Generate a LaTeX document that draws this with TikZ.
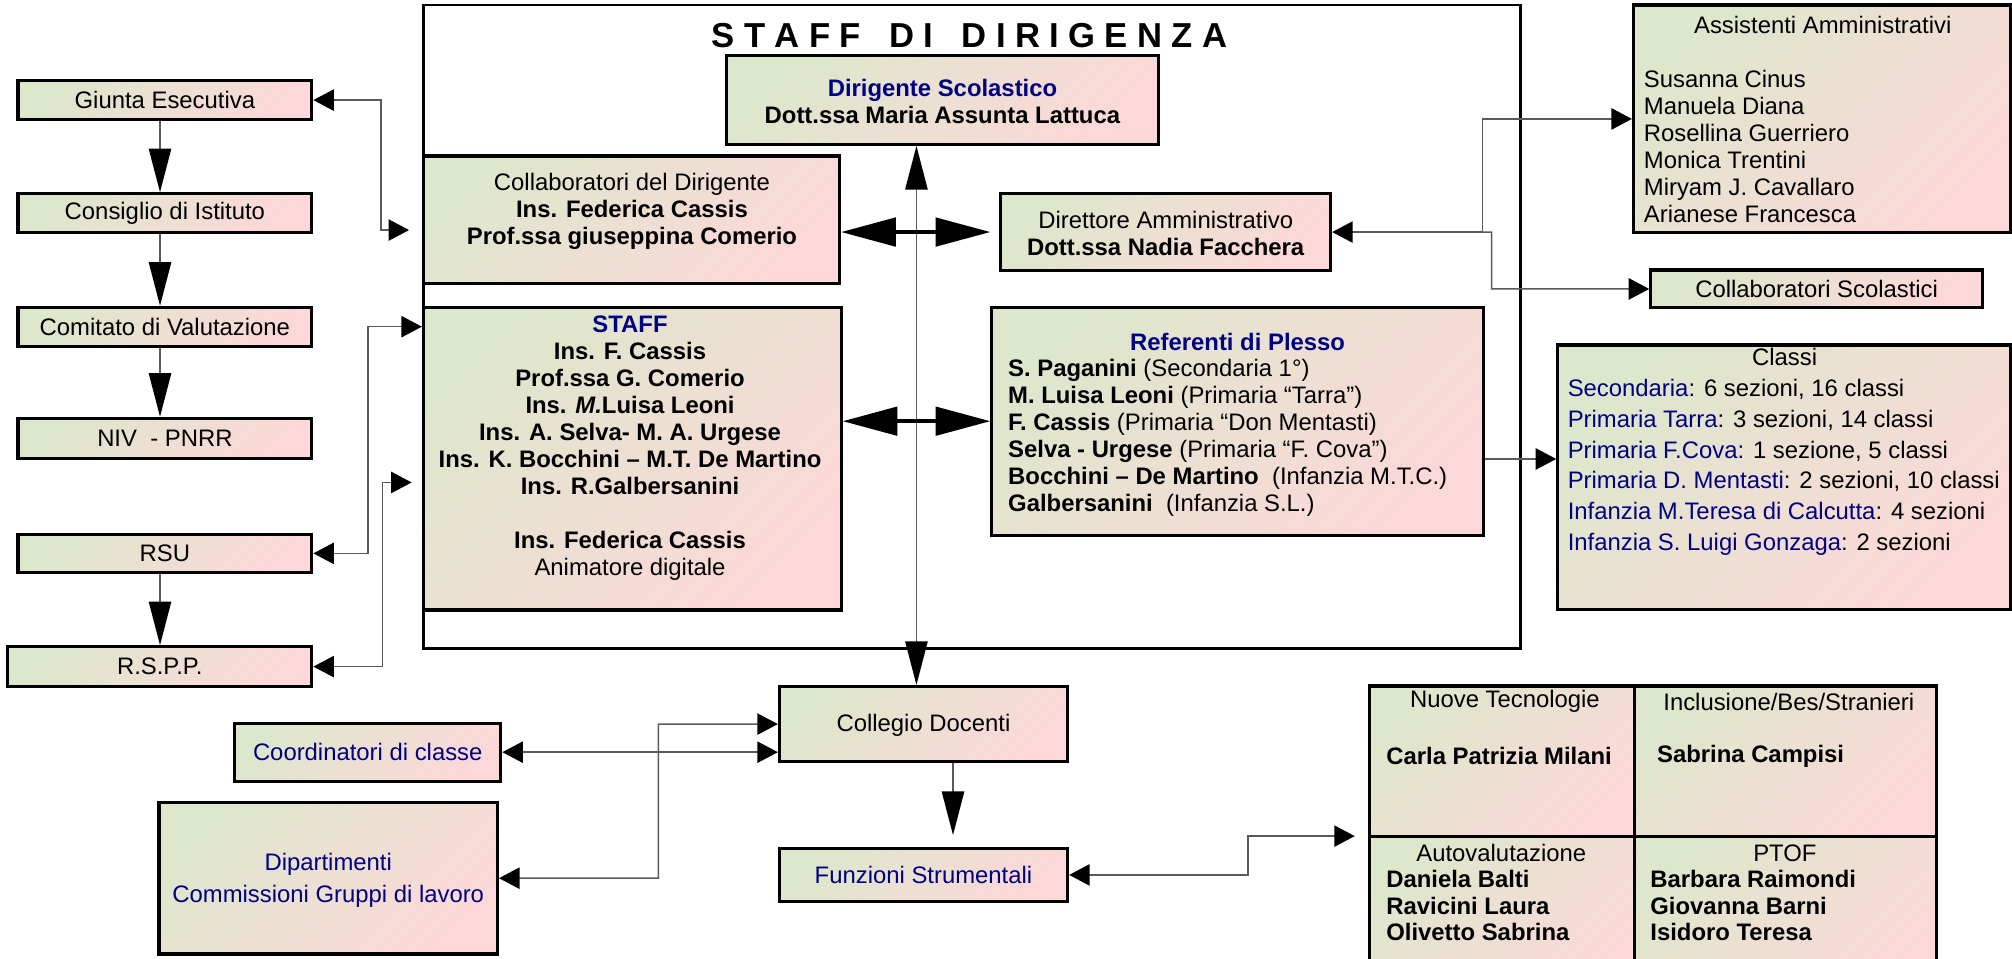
\documentclass[tikz,border=0pt]{standalone}
\usepackage{fontspec}
\setmainfont{Liberation Sans}
\usetikzlibrary{arrows.meta,fit}
\definecolor{gA}{RGB}{221,231,204}
\definecolor{gB}{RGB}{252,216,216}
\definecolor{navy}{RGB}{0,0,128}
\definecolor{lineg}{RGB}{90,90,90}
\newcommand\nf{\fontsize{9.3}{10.5}\selectfont}
\newcommand\lsp{\kern3.66pt}
\begin{document}
\begin{tikzpicture}[x=0.5pt,y=-0.5pt,
  bx/.style={draw=black, line width=1.2pt, top color=gA, bottom color=gB, shading angle=45, inner sep=0pt},
  txt/.style={inner sep=0pt, font=\nf, align=center},
  ltxt/.style={inner sep=0pt, font=\nf, align=left, anchor=north west},
  con/.style={draw=lineg, line width=0.6pt},
  tob/.style={arrows={-Triangle[length=17pt,width=8.7pt,color=black]}},
  bb/.style={arrows={Triangle[length=17pt,width=8.7pt,color=black]-Triangle[length=17pt,width=8.7pt,color=black]}},
  mm/.style={arrows={Triangle[length=8pt,width=8.3pt,color=black]-Triangle[length=8pt,width=8.3pt,color=black]}},
  tom/.style={arrows={-Triangle[length=8pt,width=8.3pt,color=black]}},
  dd/.style={arrows={Triangle[length=21.3pt,width=11pt]-Triangle[length=21.3pt,width=11pt]}},
]
\useasboundingbox (0,0) rectangle (1568,747);

% outer frame and title
\node[draw=black, line width=1pt, inner sep=0pt, fit={(330,3.9)(1185,505.3)}] (frame) {};
\node[inner sep=0pt, font=\fontsize{13.5}{15}\selectfont\bfseries] (title) at (755.5,28)
  {S\lsp T\lsp A\lsp F\lsp F\lsp\lsp\ D\lsp I\lsp\lsp\ D\lsp I\lsp R\lsp I\lsp G\lsp E\lsp N\lsp Z\lsp A};

% left column
\node[bx, fit={(14,63)(243,93)}] (giunta) {};
\node[txt] (giuntaT) at (giunta.center) {Giunta Esecutiva};
\node[bx, fit={(14,151)(243,181)}] (consiglio) {};
\node[txt] (consiglioT) at (consiglio.center) {Consiglio di Istituto};
\node[bx, fit={(14,239.5)(243,270)}] (comitato) {};
\node[txt] (comitatoT) at (comitato.center) {Comitato di Valutazione};
\node[bx, fit={(14,326)(243,357)}] (niv) {};
\node[txt] (nivT) at (niv.center) {NIV\ \ - PNRR};
\node[bx, fit={(14,416.5)(243,446)}] (rsu) {};
\node[txt] (rsuT) at (rsu.center) {RSU};
\node[bx, fit={(6,504)(243,535)}] (rspp) {};
\node[txt] (rsppT) at (rspp.center) {R.S.P.P.};

% central boxes
\node[bx, fit={(566,43.6)(903,112.5)}] (dirig) {};
\node[txt] (dirigT) at (734.5,78.8) {\textcolor{navy}{\textbf{Dirigente Scolastico}}\\\textbf{Dott.ssa Maria Assunta Lattuca}};
\node[bx, fit={(330,121.6)(654.3,221)}] (collab) {};
\node[txt] (collabT) at (492.5,164.6) {Collaboratori del Dirigente\\\textbf{Ins. Federica Cassis}\\\textbf{Prof.ssa giuseppina Comerio}};
\node[bx, fit={(780,150.7)(1037,211)}] (dsga) {};
\node[txt] (dsgaT) at (908.5,182.3) {Direttore Amministrativo\\\textbf{Dott.ssa Nadia Facchera}};

\node[bx, fit={(330,239.5)(655.5,475.4)}] (staff) {};
\node[txt, anchor=north] (staffT) at (491,244.3) {\strut\textcolor{navy}{\textbf{STAFF}}\\
  \textbf{Ins. F. Cassis}\\
  \textbf{Prof.ssa G. Comerio}\\
  \textbf{Ins. \textit{M.}Luisa Leoni}\\
  \textbf{Ins. A. Selva- M. A. Urgese}\\
  \textbf{Ins. K. Bocchini – M.T. De Martino}\\
  \textbf{Ins. R.Galbersanini}\\[10.5pt]
  \textbf{Ins. Federica Cassis}\\
  Animatore digitale};

\node[bx, fit={(773,239.5)(1156,417)}] (refer) {};
\node[txt] (referT) at (964.5,266.3) {\textcolor{navy}{\textbf{Referenti di Plesso}}};
\node[ltxt] (referL) at (785.3,278.5) {\strut\textbf{S. Paganini} (Secondaria 1°)\\
  \textbf{M. Luisa Leoni} (Primaria “Tarra”)\\
  \textbf{F. Cassis} (Primaria “Don Mentasti)\\
  \textbf{Selva - Urgese} (Primaria “F. Cova”)\\
  \textbf{Bocchini – De Martino}\ \ (Infanzia M.T.C.)\\
  \textbf{Galbersanini}\ \ (Infanzia S.L.)};

% right column
\node[bx, fit={(1273,3.9)(1567,181)}] (assist) {};
\node[txt] (assistT) at (1420.5,19.5) {Assistenti Amministrativi};
\node[ltxt] (assistL) at (1280.7,53.1) {\strut Susanna Cinus\\Manuela Diana\\Rosellina Guerriero\\Monica Trentini\\Miryam J. Cavallaro\\Arianese Francesca};
\node[bx, fit={(1286.5,210.4)(1545,240)}] (collsc) {};
\node[txt] (collscT) at (collsc.center) {Collaboratori Scolastici};

\node[bx, fit={(1214,268.9)(1567,475)}] (classi) {};
\node[txt] (classiT) at (1390.8,278) {Classi};
\node[ltxt, font=\fontsize{9.3}{11.95}\selectfont] (classiL) at (1221.4,292.1) {\strut\textcolor{navy}{Secondaria}: 6 sezioni, 16 classi\\
  \textcolor{navy}{Primaria Tarra}: 3 sezioni, 14 classi\\
  \textcolor{navy}{Primaria F.Cova:} 1 sezione, 5 classi\\
  \textcolor{navy}{Primaria D. Mentasti}: 2 sezioni, 10 classi\\
  \textcolor{navy}{Infanzia M.Teresa di Calcutta}: 4 sezioni\\
  \textcolor{navy}{Infanzia S. Luigi Gonzaga}: 2 sezioni};

% bottom
\node[bx, fit={(607.4,535)(832,593.6)}] (collegio) {};
\node[txt] (collegioT) at (719.7,565) {Collegio Docenti};
\node[bx, fit={(607.4,661)(832,702.7)}] (funz) {};
\node[txt] (funzT) at (719.7,682) {\textcolor{navy}{Funzioni Strumentali}};
\node[bx, fit={(182.9,563.7)(390.3,608.7)}] (coord) {};
\node[txt] (coordT) at (286.6,586.2) {\textcolor{navy}{Coordinatori di classe}};
\node[bx, fit={(123.9,625.3)(387.7,743.5)}] (dip) {};
\node[txt] (dipT) at (255.8,686) {\textcolor{navy}{Dipartimenti}\\[1.7pt]\textcolor{navy}{Commissioni Gruppi di lavoro}};

% grid of funzioni
\node[bx, fit={(1067,534.6)(1273.8,651.6)}] (c1) {};
\node[bx, fit={(1273.8,534.6)(1508.8,651.6)}] (c2) {};
\node[bx, fit={(1067,651.6)(1273.8,775)}] (c3) {};
\node[bx, fit={(1273.8,651.6)(1508.8,775)}] (c4) {};
\node[txt] (c1t) at (1172.8,546.9) {Nuove Tecnologie};
\node[txt, anchor=west] (c1n) at (1080,589.2) {\textbf{Carla Patrizia Milani}};
\node[txt] (c2t) at (1394,546.9) {Inclusione/Bes/Stranieri};
\node[txt, anchor=west] (c2n) at (1291,589.2) {\textbf{Sabrina Campisi}};
\node[txt] (c3t) at (1170,665) {Autovalutazione};
\node[ltxt, font=\fontsize{9.3}{10.2}\selectfont] (c3n) at (1080,677.3) {\strut\textbf{Daniela Balti}\\\textbf{Ravicini Laura}\\\textbf{Olivetto Sabrina}};
\node[txt] (c4t) at (1391,665) {PTOF};
\node[ltxt, font=\fontsize{9.3}{10.2}\selectfont] (c4n) at (1285.8,677.3) {\strut\textbf{Barbara Raimondi}\\\textbf{Giovanna Barni}\\\textbf{Isidoro Teresa}};

% connectors left column
\coordinate (lx) at (124.7,0);
\draw[con, tob] (giunta.south -| lx) -- (consiglio.north -| lx);
\draw[con, tob] (consiglio.south -| lx) -- (comitato.north -| lx);
\draw[con, tob] (comitato.south -| lx) -- (niv.north -| lx);
\draw[con, tob] (rsu.south -| lx) -- (rspp.north -| lx);

\coordinate (gj) at (297,179.3);
\draw[con, mm, shorten >=5pt] (giunta.east) -| (gj) -- (gj -| collab.west);
\coordinate (rj) at (286.7,254.6);
\draw[con, mm] (rsu.east) -| (rj) -- (rj -| staff.west);
\coordinate (pj) at (298,376);
\draw[con, mm, shorten >=4pt] (rspp.east) -| (pj) -- (pj -| staff.west);

% central connectors
\coordinate (cx) at (714.2,0);
\draw[con, bb] (dirig.south -| cx) -- (collegio.north -| cx);
\draw[line width=1.6pt, dd, shorten >=3.5pt] (dsga.west -| collab.east) -- (dsga.west);
\draw[line width=1.6pt, dd] (refer.west -| staff.east) -- (refer.west);

% right connectors
\coordinate (aj) at (1155.5,92.7);
\draw[con, mm] (dsga.east) -| (aj) -- (aj -| assist.west);
\coordinate (cj) at (1162.5,225.2);
\draw[con, tom] (dsga.east -| aj) -| (cj) -- (collsc.west);
\coordinate (rc) at (1156,357.7);
\draw[con, tom] (rc -| refer.east) -- (rc -| classi.west);

% bottom connectors
\draw[con, mm] (coord.east) -- (coord.east -| collegio.west);
\coordinate (dj) at (513,564.3);
\draw[con, mm] (dip.east) -| (dj) -- (collegio.west);
\coordinate (fx) at (742.7,0);
\draw[con, tob, shorten >=4.5pt] (collegio.south -| fx) -- (funz.north -| fx);
\coordinate (fg) at (972.5,651.6);
\draw[con, mm, shorten >=5pt] (funz.east) -| (fg) -- (fg -| c1.west);
\end{tikzpicture}
\end{document}
